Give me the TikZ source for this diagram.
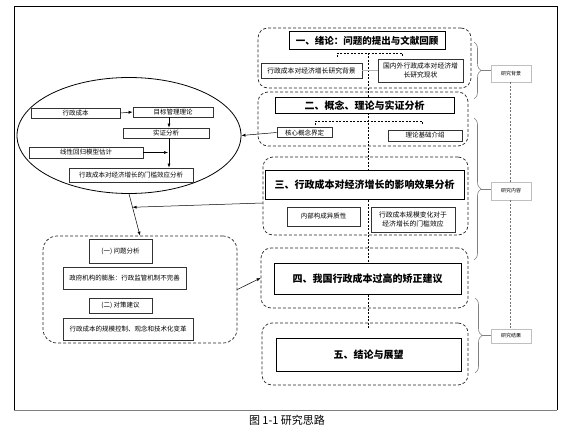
\documentclass[tikz,border=0pt]{standalone}
\usepackage{fontspec}
\setmainfont{Noto Sans CJK SC}
\usetikzlibrary{arrows.meta,calc,shapes.geometric,decorations.pathreplacing}
\begin{document}
\begin{tikzpicture}[x=1pt,y=-1pt,
  dbox/.style={draw=black!85, dash pattern=on 3pt off 2pt, rounded corners=10pt, line width=0.7pt, inner sep=0pt},
  titlebox/.style={draw=black, line width=1pt, fill=white, inner sep=0pt, font=\fontsize{10}{12}\selectfont\bfseries},
  sbox/.style={draw=black!80, line width=0.8pt, fill=white, inner sep=0pt, align=center, font=\fontsize{6.5}{8.5}\selectfont},
  lbl/.style={draw=black!25, line width=0.5pt, fill=white, inner sep=0pt, font=\fontsize{5}{6}\selectfont},
  arr/.style={-{Latex[length=4pt,width=3pt]}, line width=0.5pt},
  bracestyle/.style={draw=black!50, line width=0.6pt, decorate, decoration={brace, amplitude=7pt}},
  thin/.style={draw=black!50, line width=0.5pt},
  cline/.style={dash pattern=on 2pt off 1.5pt, line width=0.6pt}]
\useasboundingbox (0,0) rectangle (564,441);
% outer frame
\draw[line width=0.8pt] (14,410) -- (14,6) -- (557,6) -- (557,410);
\draw[black!50, line width=0.8pt] (14,410) -- (557,410);
% dashed containers
\node[dbox, minimum width=213pt, minimum height=60pt] (D1) at (364.5,58) {};
\node[dbox, minimum width=210pt, minimum height=54pt] (D2) at (363,119) {};
\node[dbox, minimum width=205pt, minimum height=78pt] (D3) at (365.5,196) {};
\node[dbox, minimum width=207pt, minimum height=60pt] (D4) at (364.5,278) {};
\node[dbox, minimum width=206pt, minimum height=62pt] (D5) at (365,354) {};
\node[dbox, rounded corners=14pt, minimum width=194pt, minimum height=107pt] (DL) at (140,289.5) {};
% central dashed line and brackets
\coordinate (c1) at (368,53);
\coordinate (c2) at (368,328);
\draw[cline] (c1) -- (c2);
\draw[cline] (337,57) -- (337,53) -- (402,53) -- (402,57);
\draw[cline] (315,125) -- (315,121) -- (422,121) -- (422,125);
% titles
\node[titlebox, font=\fontsize{9.5}{11}\selectfont\bfseries, minimum width=156pt, minimum height=18pt] (T1) at (367,41) {一、绪论：问题的提出与文献回顾};
\node[titlebox, minimum width=179pt, minimum height=15pt] (T2) at (364.5,105.5) {二、概念、理论与实证分析};
\node[titlebox, minimum width=199pt, minimum height=29pt] (T3) at (364.5,184.5) {三、行政成本对经济增长的影响效果分析};
\node[titlebox, minimum width=187pt, minimum height=31pt] (T4) at (367.5,278.5) {四、我国行政成本过高的矫正建议};
\node[titlebox, minimum width=185pt, minimum height=33pt] (T5) at (368.5,354.5) {五、结论与展望};
% sub boxes right
\node[sbox, font=\fontsize{6.8}{8.5}\selectfont, minimum width=101pt, minimum height=15pt] (B1a) at (311.5,70.5) {行政成本对经济增长研究背景};
\node[sbox, font=\fontsize{6.8}{9}\selectfont, minimum width=85pt, minimum height=23pt] (B1b) at (420.5,70.5) {国内外行政成本对经济增\\长研究现状};
\draw[black!30, line width=0.5pt] (B1a.east) -- (B1b.west);
\node[sbox, minimum width=55pt, minimum height=10pt] (B2a) at (304.5,132.5) {核心概念界定};
\node[sbox, minimum width=74pt, minimum height=11pt] (B2b) at (425,135.5) {理论基础介绍};
\node[sbox, minimum width=73pt, minimum height=19pt] (B3a) at (323.5,216.5) {内部构成异质性};
\node[sbox, font=\fontsize{6.8}{9}\selectfont, minimum width=84pt, minimum height=25pt] (B3b) at (413,219.5) {行政成本规模变化对于\\经济增长的门槛效应};
% ellipse group
\node[draw, ellipse, line width=0.8pt, minimum width=224pt, minimum height=116pt, inner sep=0pt] (ell) at (129,135.5) {};
\node[sbox, minimum width=89pt, minimum height=10pt] (E1) at (75.5,113) {行政成本};
\node[sbox, minimum width=80pt, minimum height=10pt] (E2) at (173,112) {目标管理理论};
\node[sbox, minimum width=86pt, minimum height=10pt] (E3) at (166,133) {实证分析};
\node[sbox, minimum width=114pt, minimum height=11pt] (E4) at (86,152.5) {线性回归模型估计};
\node[sbox, minimum width=124pt, minimum height=14pt] (E5) at (131,175) {行政成本对经济增长的门槛效应分析};
\coordinate (vx) at (169,0);
\draw[arr] (E1.east) -- (E2.west);
\draw[arr] (E2.south -| vx) -- (E3.north -| vx);
\draw[arr] (E3.south -| vx) -- (E5.north -| vx);
\draw[arr] (E4.east) -- ($(E4.east -| vx)+(-1,0)$);
% left dashed group
\node[sbox, minimum width=63pt, minimum height=24pt] (P1) at (120.5,251) {(一) 问题分析};
\node[sbox, minimum width=123pt, minimum height=22pt] (P2) at (124.5,278) {政府机构的膨胀：行政监管机制不完善};
\node[sbox, minimum width=63pt, minimum height=15pt] (P3) at (120.5,305.5) {(二) 对策建议};
\node[sbox, minimum width=130pt, minimum height=22pt] (P4) at (128,329) {行政成本的规模控制、观念和技术化变革};
% connectors
\draw[arr] (B2a.west) -- (ell.east);
\draw[arr] (ell.south) -- (DL.north);
\coordinate (jn) at ($(ell.south)!0.32!(DL.north)$);
\draw[arr] ([yshift=-7pt]D3.west) -- (jn);
\draw[arr] (DL.east) -- (D4.west);
% right side braces and labels
\node[lbl, minimum width=40pt, minimum height=17pt] (L1) at (511,73.5) {研究背景};
\node[lbl, minimum width=40pt, minimum height=18pt] (L2) at (511,191) {研究内容};
\node[lbl, minimum width=40pt, minimum height=14pt] (L3) at (511,336) {研究结果};
\draw[black!55, dash pattern=on 2pt off 1.5pt, line width=0.5pt] (L1.south -| 510,0) -- (L2.north -| 510,0);
\draw[black!55, dash pattern=on 2pt off 1.5pt, line width=0.5pt] (L2.south -| 510,0) -- (L3.north -| 510,0);
\draw[bracestyle] (474,42) -- (474,99);
\draw[bracestyle] (474,118) -- (474,260);
\draw[bracestyle] (475,298) -- (475,373);
\coordinate (bt1) at (481,70.5);
\coordinate (bt2) at (481,189);
\coordinate (bt3) at (482,335.5);
\draw[thin] (bt1) -- (bt1 -| L1.west);
\draw[thin] (bt2) -- (bt2 -| L2.west);
\draw[thin] (bt3) -- (bt3 -| L3.west);
% caption
\node[font=\fontsize{11}{13}\selectfont] (cap) at (287,420) {图 1-1 研究思路};
\end{tikzpicture}
\end{document}
